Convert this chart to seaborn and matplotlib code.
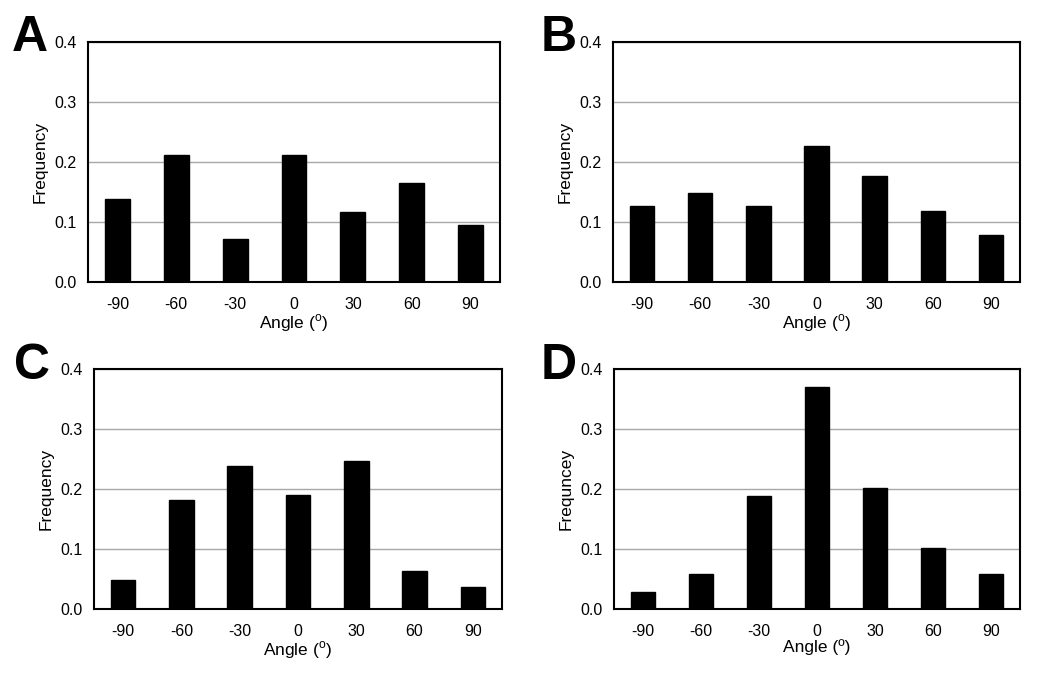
import numpy as np
import pandas as pd
import seaborn as sns
import matplotlib.pyplot as plt

angles = ["-90", "-60", "-30", "0", "30", "60", "90"]

freq_a = [0.138, 0.211, 0.071, 0.211, 0.117, 0.165, 0.095]
freq_b = [0.126, 0.148, 0.126, 0.226, 0.177, 0.118, 0.078]
freq_c = [0.048, 0.182, 0.239, 0.190, 0.247, 0.064, 0.037]
freq_d = [0.029, 0.059, 0.188, 0.370, 0.201, 0.102, 0.059]

panel_letters = ["A", "B", "C", "D"]
y_labels = ["Frequency", "Frequency", "Frequency", "Frequncey"]
x_labels = ["Angle ($^{\\mathrm{o}}$)", "Angle ($^{\\mathrm{o}}$)",
            "Angle ($^{\\mathrm{o}}$)", "Angle (\u00ba)"]

sns.set_style("white")
plt.rcParams["font.family"] = ["Liberation Sans", "DejaVu Sans"]
plt.rcParams["mathtext.fontset"] = "custom"
plt.rcParams["mathtext.rm"] = "Liberation Sans"
plt.rcParams["text.color"] = "black"
plt.rcParams["axes.labelcolor"] = "black"
plt.rcParams["xtick.color"] = "black"
plt.rcParams["ytick.color"] = "black"

df = pd.DataFrame({
    "angle": angles * 4,
    "freq": freq_a + freq_b + freq_c + freq_d,
    "panel": [p for p in panel_letters for _ in angles],
})

fig = plt.figure(figsize=(10.5, 6.87), dpi=100)

# axes rectangles in figure fractions
rects = [
    [0.0838, 0.5895, 0.3924, 0.3493],
    [0.5838, 0.5895, 0.3876, 0.3493],
    [0.0895, 0.1135, 0.3886, 0.3493],
    [0.5848, 0.1135, 0.3867, 0.3493],
]
letter_pos = [(0.011, 0.978), (0.515, 0.978), (0.013, 0.501), (0.515, 0.501)]

for i, panel in enumerate(panel_letters):
    ax = fig.add_axes(rects[i])
    sub = df[df["panel"] == panel]
    ax.set_axisbelow(True)
    ax.yaxis.grid(True, color="#a8a8a8", linewidth=1.0)
    sns.barplot(data=sub, x="angle", y="freq", order=angles, color="black",
                saturation=1, width=0.42, edgecolor="black", ax=ax)
    ax.set_ylim(0, 0.4)
    ax.set_xlim(-0.5, 6.5)
    ax.set_yticks([0.0, 0.1, 0.2, 0.3, 0.4])
    ax.set_yticklabels(["0.0", "0.1", "0.2", "0.3", "0.4"])
    ax.tick_params(axis="y", length=4, width=1, labelsize=11.5, pad=4)
    ax.tick_params(axis="x", which="major", length=0, labelsize=11.5, pad=11)
    ax.set_xticks(np.arange(-0.5, 7.0, 1.0), minor=True)
    ax.tick_params(axis="x", which="minor", length=4, width=1, color="#888888")
    for s in ax.spines.values():
        s.set_visible(True)
        s.set_color("black")
        s.set_linewidth(1.5)
    ax.set_ylabel(y_labels[i], fontsize=12.5, labelpad=5)
    ax.set_xlabel(x_labels[i], fontsize=12.5, labelpad=0)
    fig.text(letter_pos[i][0], letter_pos[i][1], panel, fontsize=36,
             fontweight="bold", ha="left", va="top")

fig.savefig("out.png", dpi=100)
